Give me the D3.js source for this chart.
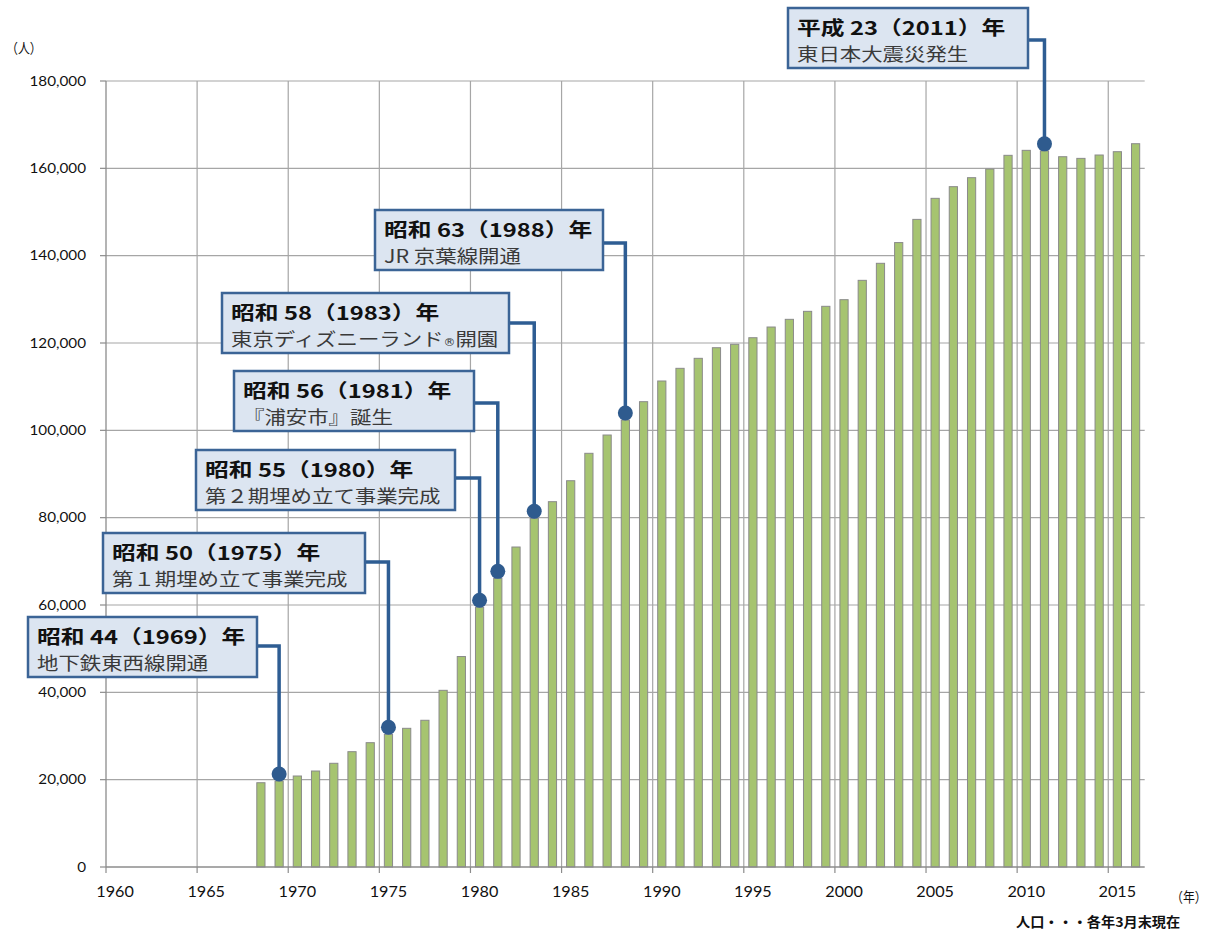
<!DOCTYPE html>
<html><head><meta charset="utf-8">
<script src="https://cdn.jsdelivr.net/npm/d3@7"></script>
<style>html,body{margin:0;padding:0;background:#fff;}</style>
</head><body>
<svg id="chart" width="1216" height="931"></svg>
<script>
// ---- data ----
const years = d3.range(1968, 2017);
const population = [19300,19700,20840,21980,23750,26410,28470,30390,31760,33600,40460,48200,59500,66100,73280,79850,83660,88460,94740,98930,102360,106560,111300,114200,116490,118920,119700,121210,123660,125420,127250,128400,129920,134350,138250,143000,148310,153130,155800,157860,159840,162980,164120,164000,162660,162280,163050,163810,165640];
const axisYears = d3.range(1960, 2017);
const yTicks = [0,20000,40000,60000,80000,100000,120000,140000,160000,180000];
const xLabelYears = [1960,1965,1970,1975,1980,1985,1990,1995,2000,2005,2010,2015];
const eventYears = [2011,1988,1983,1981,1980,1975,1969];
const eventTitles = ["平成 23（2011）年","昭和 63（1988）年","昭和 58（1983）年","昭和 56（1981）年","昭和 55（1980）年","昭和 50（1975）年","昭和 44（1969）年"];
const eventTexts = ["東日本大震災発生","JR 京葉線開通","東京ディズニーランド®開園","『浦安市』誕生","第２期埋め立て事業完成","第１期埋め立て事業完成","地下鉄東西線開通"];
// callout box layout (pixels): left, top, width, connector y
const calloutLayout = [
  [788, 8, 240, 40],
  [375, 210, 228, 243],
  [222, 293, 287, 323],
  [234, 371, 240, 403],
  [196, 450, 259, 478],
  [103, 533, 262, 562],
  [28, 617, 229, 646]
];

const svg = d3.select("#chart");
const X0 = 106, X1 = 1144.7, Y0 = 867, Y1 = 81;
const SX = 1.25;

const x = d3.scaleBand().domain(axisYears).range([X0, X1]).paddingInner(0.55).paddingOuter(0.275);
const edge = d3.scaleLinear().domain([1960, 2017]).range([X0, X1]);
const y = d3.scaleLinear().domain([0, 180000]).range([Y0, Y1]);

function txt(g, xx, yy, str, opts) {
  const t = g.append("text")
    .attr("transform", `translate(${xx},${yy}) scale(${opts.sx || SX},1)`)
    .attr("text-anchor", opts.anchor || "start")
    .attr("font-family", opts.family || "Lato, 'Noto Sans CJK JP', sans-serif")
    .attr("font-size", opts.size)
    .attr("font-weight", opts.weight || "normal")
    .attr("fill", opts.fill || "#000")
    .text(str);
  return t;
}

// gridlines
const grid = svg.append("g");
grid.selectAll("line.h").data(yTicks.filter(d => d > 0)).join("line")
  .attr("x1", X0).attr("x2", X1).attr("y1", d => y(d)).attr("y2", d => y(d))
  .attr("stroke", "#a6a6a6").attr("stroke-width", 1.2);
grid.selectAll("line.v").data(xLabelYears.filter(d => d > 1960)).join("line")
  .attr("x1", d => edge(d)).attr("x2", d => edge(d)).attr("y1", Y1).attr("y2", Y0)
  .attr("stroke", "#a6a6a6").attr("stroke-width", 1.2);

// bars
svg.append("g").selectAll("rect").data(years).join("rect")
  .attr("x", (d) => x(d))
  .attr("width", x.bandwidth())
  .attr("y", (d, i) => y(population[i]))
  .attr("height", (d, i) => Y0 - y(population[i]))
  .attr("fill", "#a6c470")
  .attr("stroke", "#8a8a8a").attr("stroke-width", 1);

// axes
const ax = svg.append("g");
ax.append("line").attr("x1", X0).attr("x2", X0).attr("y1", Y1).attr("y2", Y0).attr("stroke", "#8c8c8c").attr("stroke-width", 1.3);
ax.append("line").attr("x1", X0).attr("x2", X1).attr("y1", Y0).attr("y2", Y0).attr("stroke", "#8c8c8c").attr("stroke-width", 1.3);
ax.selectAll("line.yt").data(yTicks).join("line")
  .attr("x1", X0 - 6).attr("x2", X0).attr("y1", d => y(d)).attr("y2", d => y(d))
  .attr("stroke", "#8c8c8c").attr("stroke-width", 1.2);
ax.selectAll("line.xt").data(xLabelYears).join("line")
  .attr("x1", d => edge(d)).attr("x2", d => edge(d)).attr("y1", Y0).attr("y2", Y0 + 6)
  .attr("stroke", "#8c8c8c").attr("stroke-width", 1.2);

const fmt = d3.format(",");
yTicks.forEach(v => txt(ax, 86, y(v) + 4.5, fmt(v), {size: 12.5, anchor: "end", sx: 1.22, fill: "#111"}));
xLabelYears.forEach(v => txt(ax, x(v) + x.bandwidth() / 2, 897, String(v), {size: 15, anchor: "middle", sx: 1.08, fill: "#111"}));

txt(svg, 6, 53, "（人）", {size: 14, family: "'Noto Sans CJK JP', sans-serif", sx: 0.85, fill: "#111"});
txt(svg, 1171, 902, "（年）", {size: 14, family: "'Noto Sans CJK JP', sans-serif", sx: 0.85, fill: "#111"});
txt(svg, 1016, 927, "人口・・・各年3月末現在", {size: 13.5, weight: "bold", family: "'Noto Sans CJK JP', sans-serif", sx: 1.05, fill: "#111"});

// callouts
const cg = svg.append("g");
eventYears.forEach((yr, i) => {
  const [bx, by, bw, cy] = calloutLayout[i];
  const val = population[years.indexOf(yr)];
  const cx = x(yr) + x.bandwidth() / 2;
  const dotY = y(val) - 7;
  cg.append("path")
    .attr("d", `M${bx + bw},${cy} H${cx} V${dotY}`)
    .attr("fill", "none").attr("stroke", "#2e5d93").attr("stroke-width", 3.5);
  cg.append("circle").attr("cx", cx).attr("cy", dotY).attr("r", 7.5).attr("fill", "#2f5b8e");
  cg.append("rect").attr("x", bx).attr("y", by).attr("width", bw).attr("height", 60)
    .attr("fill", "#dce5f1").attr("stroke", "#3b6496").attr("stroke-width", 2.5);
  txt(cg, bx + 9, by + 27, eventTitles[i], {size: 19, weight: "bold", family: "'Noto Sans CJK JP', sans-serif", fill: "#111"});
  const t2 = txt(cg, bx + 9, by + 53, "", {size: 18, sx: 1.19, family: "'Noto Sans CJK JP', sans-serif", fill: "#3a3a3a"});
  const parts = eventTexts[i].split("®");
  t2.append("tspan").text(parts[0]);
  if (parts.length > 1) {
    t2.append("tspan").attr("font-size", 10).attr("font-family", "'DejaVu Sans', sans-serif").text("®");
    t2.append("tspan").text(parts[1]);
  }
});
</script>
</body></html>
